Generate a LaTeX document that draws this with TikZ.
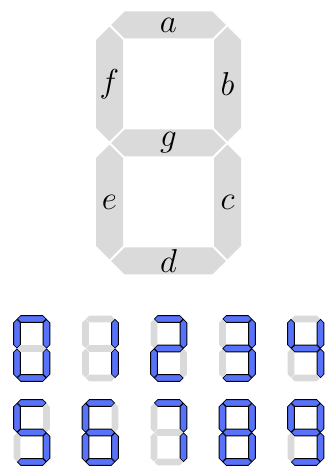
\documentclass[tikz,border=0pt]{standalone}
\usepackage{amsmath,amssymb}
\usepackage{xcolor}
\usetikzlibrary{positioning,calc}

\definecolor{segblue}{RGB}{88,115,250}
\definecolor{seggray}{RGB}{218,218,218}

% half width and end gap of a segment, in cell units
\def\sw{0.1144}
\def\sgap{0.013}
\def\slen{0.745}% 1 - 2*sgap - 2*sw

\newcommand{\hseg}[3]{%
  \path[#3] ({#1+\sgap},#2) -- ++(\sw,\sw) -- ++(\slen,0) -- ++(\sw,-\sw)
    -- ++(-\sw,-\sw) -- ++(-\slen,0) -- cycle;}
\newcommand{\vseg}[3]{%
  \path[#3] (#1,{#2-\sgap}) -- ++(\sw,-\sw) -- ++(0,-\slen) -- ++(-\sw,-\sw)
    -- ++(-\sw,\sw) -- ++(0,\slen) -- cycle;}
% segments a b c d e f g
\newcommand{\segdigit}[7]{%
  \hseg{0}{2}{#1}\vseg{1}{2}{#2}\vseg{1}{1}{#3}\hseg{0}{0}{#4}%
  \vseg{0}{1}{#5}\vseg{0}{2}{#6}\hseg{0}{1}{#7}}
\newcommand{\seglbl}[1]{\scalebox{1.33}{$#1$}}

\begin{document}
\begin{tikzpicture}[x=1pt, y=1pt]
    \tikzset{
        segon/.style={fill=segblue, draw=black, line width=0.8pt},
        segoff/.style={fill=seggray},
        seglabel/.style={inner sep=0pt, font=\Huge}
    }
    \useasboundingbox (0,0) rectangle (327,468);

    % big digit with segment names
    \begin{scope}[shift={(109.5,207)}, x=118pt, y=118pt]
        \segdigit{segoff}{segoff}{segoff}{segoff}{segoff}{segoff}{segoff}
        \node [seglabel] (la) at (0.5,2) {\seglbl{a}};
        \node [seglabel] (lb) at (1,1.5) {\seglbl{b}};
        \node [seglabel] (lc) at (1,0.5) {\seglbl{c}};
        \node [seglabel] (ld) at (0.5,0) {\seglbl{d}};
        \node [seglabel] (le) at (0,0.5) {\seglbl{e}};
        \node [seglabel] (lf) at (0,1.5) {\seglbl{f}};
        \node [seglabel] (lg) at (0.5,1) {\seglbl{g}};
    \end{scope}

    % digits 0 to 9
    \foreach \col/\row/\sa/\sb/\sc/\sd/\se/\sf/\sg in {
        0/0/segon/segon/segon/segon/segon/segon/segoff,
        1/0/segoff/segon/segon/segoff/segoff/segoff/segoff,
        2/0/segon/segon/segoff/segon/segon/segoff/segon,
        3/0/segon/segon/segon/segon/segoff/segoff/segon,
        4/0/segoff/segon/segon/segoff/segoff/segon/segon,
        0/1/segon/segoff/segon/segon/segoff/segon/segon,
        1/1/segon/segoff/segon/segon/segon/segon/segon,
        2/1/segon/segon/segon/segoff/segoff/segoff/segoff,
        3/1/segon/segon/segon/segon/segon/segon/segon,
        4/1/segon/segon/segon/segon/segoff/segon/segon} {
        \begin{scope}[shift={(17+68.5*\col,90-84*\row)}, x=29.5pt, y=29.5pt]
            \segdigit{\sa}{\sb}{\sc}{\sd}{\se}{\sf}{\sg}
        \end{scope}
    }
\end{tikzpicture}
\end{document}
